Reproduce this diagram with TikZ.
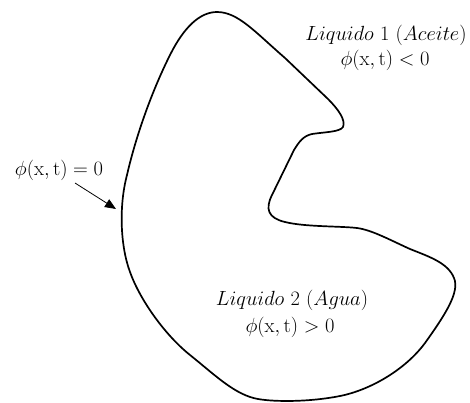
\documentclass[tikz,border=0pt]{standalone}
\usepackage{fix-cm}
\usepackage{amsmath}
\usetikzlibrary{arrows.meta}
\tikzset{
  lbl/.style={inner sep=0pt, font=\fontsize{20.5}{24}\selectfont},
  interface/.style={line width=1.7pt, line join=round},
  pointer/.style={line width=0.8pt, -{Triangle[length=11pt,width=9pt]}}
}
\begin{document}
\begin{tikzpicture}[x=1pt,y=-1pt]
\useasboundingbox (0,0) rectangle (470,402);
\draw[interface]
 (217,12) .. controls (238,12) and (255,32) .. (285,58)
 -- (328,99)
 .. controls (338,109) and (346,120) .. (343,127)
 .. controls (340,132) and (325,132) .. (312,134)
 .. controls (303,136) and (299,142) .. (294,150)
 -- (272,195)
 .. controls (265,209) and (268,218) .. (285,222)
 .. controls (305,227) and (340,226) .. (357,228)
 .. controls (372,230) and (390,240) .. (410,249)
 .. controls (430,257) and (448,263) .. (454,278)
 .. controls (460,292) and (445,315) .. (425,343)
 .. controls (405,370) and (370,390) .. (340,396)
 .. controls (310,402) and (275,402) .. (258,399)
 .. controls (235,395) and (215,375) .. (190,355)
 .. controls (165,335) and (140,300) .. (130,272)
 .. controls (120,245) and (119,205) .. (127,175)
 .. controls (135,140) and (150,95) .. (170,55)
 .. controls (184,27) and (200,12) .. (217,12) -- cycle;
\node[lbl] (oil)  at (386,35) {$Liquido\ 1\ (Aceite)$};
\node[lbl] (oilphi) at (385,60) {$\phi(\mathrm{x},\mathrm{t})<0$};
\node[lbl] (water) at (292,300) {$Liquido\ 2\ (Agua)$};
\node[lbl] (waterphi) at (290,327) {$\phi(\mathrm{x},\mathrm{t})>0$};
\node[lbl] (zero) at (59,170) {$\phi(\mathrm{x},\mathrm{t})=0$};
\coordinate (astart) at (75,183);
\coordinate (atip) at (116,209);
\draw[pointer] (astart) -- (atip);
\end{tikzpicture}
\end{document}
